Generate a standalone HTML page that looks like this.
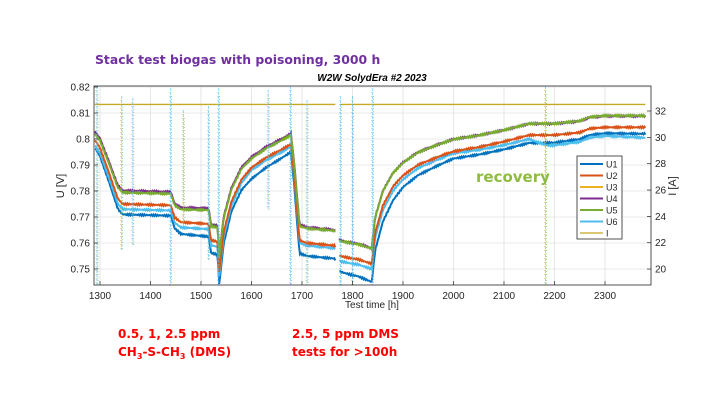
<!DOCTYPE html>
<html><head><meta charset="utf-8">
<style>
body{margin:0;background:#fff;width:720px;height:405px;overflow:hidden;font-family:"Liberation Sans",sans-serif;}
svg{position:absolute;left:0;top:0}
</style></head><body>
<svg id="s" width="720" height="405" xmlns="http://www.w3.org/2000/svg" font-family="Liberation Sans, sans-serif">
<text x="95" y="64" font-size="12.4" font-weight="bold" fill="#7030a0" font-family="DejaVu Sans, sans-serif">Stack test biogas with poisoning, 3000 h</text>
<text x="372" y="81" font-size="10" font-weight="bold" font-style="italic" text-anchor="middle">W2W SolydEra #2 2023</text>
<g id="grid"></g>
<g id="data"></g>
<rect x="94" y="86" width="557" height="199" fill="none" stroke="#262626" stroke-width="0.8"/>
<g id="ticks" font-size="10" fill="#262626"></g>
<text x="372" y="308" font-size="10" text-anchor="middle" fill="#262626">Test time [h]</text>
<text transform="translate(64,186) rotate(-90)" font-size="11" text-anchor="middle" fill="#262626">U [V]</text>
<text transform="translate(676,186) rotate(-90)" font-size="11" text-anchor="middle" fill="#262626">I [A]</text>
<text x="476" y="182" font-size="15" font-weight="bold" fill="#8fbc3f" font-family="DejaVu Sans, sans-serif">recovery</text>
<g id="legend"></g>
<g font-size="12" font-weight="bold" fill="#ff0000" font-family="DejaVu Sans, sans-serif">
<text x="118" y="338">0.5, 1, 2.5 ppm</text>
<text x="118" y="356">CH<tspan font-size="8" dy="3">3</tspan><tspan dy="-3">-S-CH</tspan><tspan font-size="8" dy="3">3</tspan><tspan dy="-3"> (DMS)</tspan></text>
<text x="292" y="338">2.5, 5 ppm DMS</text>
<text x="292" y="356">tests for &gt;100h</text>
</g>
</svg>
<script>
(function(){
var NS="http://www.w3.org/2000/svg";
function X(t){return 100+(t-1300)*0.505;}
function Y(v){return 87+(0.82-v)*2600;}
function YI(a){return 111+(32-a)*13.17;}
function el(p,n,a){var e=document.createElementNS(NS,n);for(var k in a)e.setAttribute(k,a[k]);document.getElementById(p).appendChild(e);return e;}
for(var t=1300;t<=2300;t+=100){el("grid","line",{x1:X(t),x2:X(t),y1:86,y2:285,stroke:"#e0e0e0","stroke-width":0.8});
el("ticks","line",{x1:X(t),x2:X(t),y1:285,y2:281,stroke:"#262626","stroke-width":0.7});
el("ticks","text",{x:X(t),y:299,"text-anchor":"middle"}).textContent=t;}
for(var i=0;i<=7;i++){var v=0.75+i*0.01,y=Y(v);el("grid","line",{x1:94,x2:651,y1:y,y2:y,stroke:"#e0e0e0","stroke-width":0.8});
el("ticks","line",{x1:94,x2:98,y1:y,y2:y,stroke:"#262626","stroke-width":0.7});
el("ticks","text",{x:90,y:y+3.5,"text-anchor":"end"}).textContent=(i==5?"0.8":v.toFixed(2));}
for(var a=20;a<=32;a+=2){var y=YI(a);el("ticks","line",{x1:647,x2:651,y1:y,y2:y,stroke:"#262626","stroke-width":0.7});
el("ticks","text",{x:655,y:y+3.5}).textContent=a;}
var topc=[[1290,0.8025],[1300,0.800],[1320,0.790],[1335,0.782],[1345,0.7800],[1440,0.7795],[1448,0.775],[1460,0.7735],[1515,0.7732],[1520,0.767],[1533,0.7665],[1536,0.755],[1545,0.770],[1560,0.781],[1580,0.789],[1600,0.793],[1630,0.797],[1660,0.800],[1678,0.802],[1685,0.790],[1695,0.767],[1710,0.766],[1765,0.765],[1775,0.761],[1800,0.760],[1810,0.7598],[1838,0.758],[1845,0.770],[1860,0.780],[1880,0.787],[1900,0.791],[1930,0.795],[1970,0.798],[2000,0.8000],[2050,0.8015],[2100,0.8035],[2150,0.806],[2180,0.806],[2200,0.806],[2250,0.807],[2270,0.8085],[2300,0.809],[2380,0.809]];
function interp(arr,t){for(var i=1;i<arr.length;i++){if(t<=arr[i][0]){var a=arr[i-1],b=arr[i];return a[1]+(b[1]-a[1])*(t-a[0])/(b[0]-a[0]);}}return arr[arr.length-1][1];}
var offs={
U1:[[1290,-0.006],[1340,-0.009],[1440,-0.009],[1460,-0.010],[1535,-0.011],[1560,-0.009],[1678,-0.007],[1695,-0.011],[1765,-0.011],[1775,-0.012],[1840,-0.013],[1900,-0.0095],[2000,-0.0075],[2180,-0.0075],[2300,-0.0068],[2380,-0.007]],
U2:[[1290,-0.003],[1340,-0.005],[1440,-0.005],[1460,-0.0055],[1535,-0.006],[1600,-0.004],[1678,-0.004],[1695,-0.006],[1840,-0.006],[1900,-0.005],[2100,-0.0045],[2380,-0.0045]],
U6:[[1290,-0.005],[1340,-0.007],[1440,-0.007],[1460,-0.0075],[1535,-0.008],[1600,-0.005],[1678,-0.005],[1695,-0.007],[1765,-0.007],[1775,-0.008],[1840,-0.008],[1900,-0.0065],[2000,-0.0055],[2150,-0.006],[2185,-0.0085],[2300,-0.0078],[2380,-0.0085]],
U4:[[1290,0.0002],[2380,-0.0002]],
U5:[[1290,-0.0006],[1680,-0.0005],[1800,-0.0002],[2380,0]]};
var cols={U1:"#0072bd",U2:"#d95319",U3:"#edb120",U4:"#7e2f8e",U5:"#77ac30",U6:"#4dbeee",I:"#c8a820"};
["U1","U6","U2","U4","U5"].forEach(function(k){var d="";for(var t=1290;t<=2380;t+=2){if(t>1766&&t<1774){continue;}
var v=interp(topc,t)+interp(offs[k],t)+Math.sin(t*1.7+k.charCodeAt(1))*0.0003;
d+=(d===""||t==1774?"M":"L")+X(t).toFixed(1)+","+Y(v).toFixed(1);}
el("data","path",{d:d,fill:"none",stroke:cols[k],"stroke-width":2});});
el("data","path",{d:"M"+X(1290)+","+YI(32.5)+"H"+X(1766)+"M"+X(1776)+","+YI(32.5)+"H"+X(2380),stroke:cols.I,"stroke-width":1.4,fill:"none"});
var sp=[[1294,86,285],[1343,96,250],[1365,98,245],[1440,88,285],[1465,110,225],[1515,106,260],[1535,88,285],[1633,90,210],[1677,86,285],[1710,100,285],[1776,96,285],[1800,96,285],[1840,88,285],[2182,86,285]];
sp.forEach(function(s){var x=X(s[0]);
el("data","line",{x1:x,x2:x,y1:s[1],y2:s[2],stroke:cols.U6,"stroke-width":0.9,"stroke-dasharray":"3,1",opacity:0.7});
el("data","line",{x1:x+1,x2:x+1,y1:s[1]+8,y2:s[2],stroke:cols.U5,"stroke-width":0.7,"stroke-dasharray":"1,2",opacity:0.7});
el("data","line",{x1:x-1,x2:x-1,y1:s[1]+4,y2:s[2],stroke:cols.U3,"stroke-width":0.7,"stroke-dasharray":"1,3",opacity:0.7});});
el("legend","rect",{x:577,y:156,width:45,height:83,fill:"#fff",stroke:"#262626","stroke-width":0.8});
["U1","U2","U3","U4","U5","U6","I"].forEach(function(k,i){var y=164+i*11.5;
el("legend","line",{x1:580,x2:603,y1:y,y2:y,stroke:cols[k],"stroke-width":k=="I"?1.2:2});
el("legend","text",{x:606,y:y+3.5,"font-size":9,fill:"#262626"}).textContent=k;});
})();
</script>
</body></html>
